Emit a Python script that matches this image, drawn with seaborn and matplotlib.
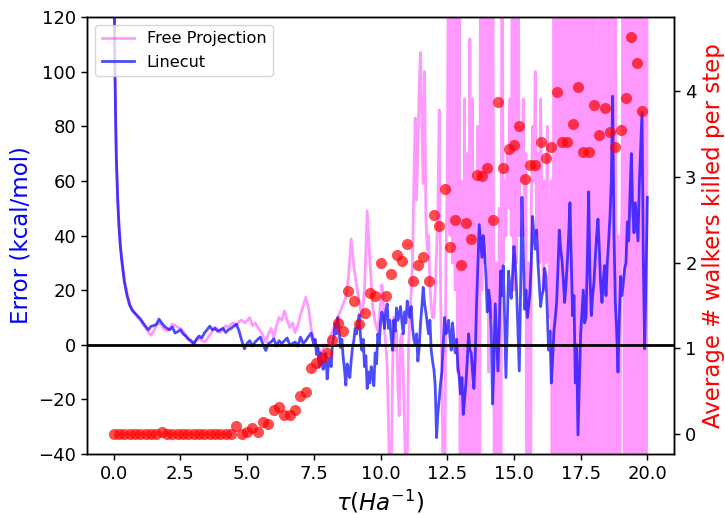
import numpy as np
import pandas as pd
import matplotlib
matplotlib.use("Agg")
import matplotlib.pyplot as plt
import seaborn as sns

# ---------------- data ----------------
# Linecut (blue): dense head, 0.1 spacing 0.7-7.4, 0.05 spacing 7.5-20.0
head_tau = [0.0, 0.02, 0.04, 0.06, 0.08, 0.1, 0.15, 0.2, 0.25, 0.3, 0.4, 0.5, 0.6]
linecut_head = [160, 130, 105, 90, 78, 68, 53, 43, 36, 31, 23, 18, 14.5]
linecut_mid = [
    12.5, 11.5, 10.5, 9.5, 8, 6.7, 5.5, 6.8, 7, 7.5,
    9.4, 8, 6.8, 6, 5.5, 6.5, 4.3, 4.8, 5.5, 4,
    3.2, 2, 1.5, 0.3, 2, 3.2, 2.5, 4.3, 5.5, 6.8,
    5.5, 6, 4.9, 5.5, 6, 4.5, 5.5, 6, 6.8, 7.5,
    5, 1.5, -1.5, 0.5, 1.5, -0.5, 1, 2, 2.8, 0,
    -2.1, 0.5, 1, 2.2, -0.5, 1.5, 0.4, 1.5, 2.5, -0.2,
    0.5, 1, -0.5, 2.8, 0.5, 1.5, 3, 4.3,
]
linecut_tail = [
    0, 2, -3.5, -1, -8.2, -3, -6, -9, -5.8, -3,
    -12.5, -7, -5, -8, 0.4, 3, 7.7, 4, 10, 5,
    -1, 2, -4.6, -9, -14.8, -7, -9, -12, -5.8, -1,
    1.5, 6, 4, 8, 11, 3, -2, 2, -8, -4,
    -16, -10, -14, -8, -11, -15, -3, -7, 4, 0,
    8, 12, 10, 6, 12.5, 15, 6, 9, 2.5, -2,
    9, 5, 13.5, 9, 11, 14, 8.5, 4, 12, 8,
    16, 12, 10, 14, 6, 2, 0, 4, -6, -1,
    8, 14, 21, 15, 12, 8, 4, 9, -2, -6,
    -9, -15, -34, -25, -20, -14, -10, 0, 10, 4,
    5, 9, 3, -2, 8, 2, -3, 2, -8, -12,
    -18, -12, -25.5, -20, -14, -6, 4, -2, -3, -10,
    -16, -4, 15, 30, 44, 38, 32, 40, 34, 25,
    12, 20, 16, 5, -21.7, -5, 15, 3, -9.6, 6,
    27, 18, 29, 10, -12, 8, 27, 20, 17, 26,
    36, 30, 20, 5, -9.6, 20, 54, 35, 13, 20,
    10, 14, 19, 30, 47, 40, 35, 42, 30, 22,
    14, 18, 20, 28, 25, 12, -2, 5, -14, -5,
    5, 10, 15.5, 28, 42, 35, 31, 24, 15.5, 22,
    30, 40, 52, 30, 10.7, 18, -14, 0, -33, -15,
    4, 12, 20, 8, 10, 30, 56, 25, 10.7, 18,
    23, 32, 40, 46, 35, 22, 15.5, 24, 29, 18,
    30, 38, 47, 60, 91, 40, 15.5, 5, -10, 10,
    25, 18, 23, 28, 30, 45, 38, 55, 70, 50,
    41, 52, 45, 38, 59, 72, 85, 30, -1.5, 25,
    54,
]

# Free Projection (magenta): same head, 0.1 spacing 0.7-9.9, 0.05 spacing 10.0-20.0
freeproj_head = [160, 130, 106, 91, 79, 69, 54, 44, 37, 32, 24, 19, 15]
freeproj_mid = [
    13, 11.5, 10, 9, 7.5, 6, 4.5, 3.5, 5, 7,
    8, 7, 5.5, 5, 6, 7.5, 7, 6.5, 6, 5,
    3.5, 2.5, 1, 0.5, 1.5, 2.5, 1.5, 1, 2, 3.5,
    5, 6.5, 5.5, 4.5, 6, 7, 6.5, 7.5, 8, 7,
    8.5, 9, 8, 8.8, 10, 7, 8, 6.3, 5, 3.3,
    1, 4, 6, 2.7, 7, 10, 9, 12.4, 9, 6.3,
    8, 4.5, 7, 11, 14, 17.4, 13.6, 6, 2, 0,
    -2, -3, 0, -1, 3, 5, 7.6, 10, 12.4, 15,
    17.4, 25, 38.8, 28.4, 22, 16, 10, 20, 49, 30.8,
    14.8, 8, 5,
]
freeproj_tail = [
    15, 22, 18, 5, 0, -8, -30, -55, -50, -10, 10, -2, 5, -15, -26, 2, 4, -10, -30, -50,
    -45, 0, 10, 20, 30, 60, 83, 53, 70, 95, 107, 80, 59, 100, 47, 35, 40, 22, 15, 10,
    10, 20, 34, 50, 86, 20, -10, -60, -80, 30, 60, 160, 40, 170, 30, 150, 20, 160, -10, 140,
    -200, 60, -200, 90, -200, 70, -200, 112, -200, 90, -200, 60, -200, 80, -200, 200, 20, 200, 30, 40,
    200, -10, 200, 10, 200, -20, -200, 30, -200, 50, -200, 200, 30, 60, 40, 70, 50, 90, 40, 200,
    20, 200, 30, 200, 40, 80, 60, 90, 40, 70, -200, 30, -200, 50, 80, 60, 100, 40, 70, 30,
    90, 50, 20, 60, 30, 80, 40, 10, 60, -200, 200, -200, 200, -200, 200, -200, 200, -200, 200, -200,
    200, -200, 200, -200, 200, -200, 200, -200, 200, -200, 200, -200, 200, -200, 200, -200, 200, -200, 200, -200,
    200, 40, -200, 200, -200, 60, 200, -200, 200, -200, 200, -200, 200, -200, 200, -200, 200, -200, 40, -200,
    30, 50, 200, -200, 200, -200, 200, -200, 200, -200, 200, -200, 200, -200, 200, -200, 200, -200, 200, -200,
    200,
]

# Average # walkers killed per step (red), every 0.2 from 0 to 19.8
killed = [
    0, 0, 0, 0, 0, 0, 0, 0, 0, 0.02,
    0, 0, 0, 0, 0, 0, 0, 0, 0, 0,
    0, 0, 0, 0.10, 0.0, 0.03, 0.07, 0.03, 0.14, 0.12,
    0.28, 0.32, 0.22, 0.22, 0.28, 0.44, 0.49, 0.77, 0.83, 0.89,
    0.95, 1.10, 1.30, 1.20, 1.67, 1.55, 1.28, 1.41, 1.64, 1.61,
    2.00, 1.61, 1.87, 2.09, 2.02, 2.22, 1.78, 1.97, 2.06, 1.78,
    2.55, 2.42, 2.86, 2.18, 2.49, 1.97, 2.46, 2.27, 3.02, 3.01,
    3.10, 2.49, 3.87, 3.10, 3.32, 3.37, 3.59, 2.97, 3.14, 3.14,
    3.41, 3.22, 3.35, 3.99, 3.41, 3.41, 3.62, 4.05, 3.29, 3.29,
    3.84, 3.49, 3.80, 3.52, 3.35, 3.55, 3.92, 4.63, 4.33, 3.77,
]

# ---------------- sampling grids ----------------
lc_tau = (head_tau
          + list(np.round(0.7 + 0.1 * np.arange(len(linecut_mid)), 3))
          + list(np.round(7.5 + 0.05 * np.arange(len(linecut_tail)), 3)))
fp_tau = (head_tau
          + list(np.round(0.7 + 0.1 * np.arange(len(freeproj_mid)), 3))
          + list(np.round(10.0 + 0.05 * np.arange(len(freeproj_tail)), 3)))
kill_tau = list(np.round(0.2 * np.arange(len(killed)), 3))

df_lc = pd.DataFrame({"tau": lc_tau, "err": linecut_head + linecut_mid + linecut_tail})
df_fp = pd.DataFrame({"tau": fp_tau, "err": freeproj_head + freeproj_mid + freeproj_tail})
df_k = pd.DataFrame({"tau": kill_tau, "killed": killed})

# ---------------- plot ----------------
plt.rcParams.update({
    "axes.linewidth": 1.05,
    "xtick.major.size": 4.5, "ytick.major.size": 4.5,
    "xtick.major.width": 1.05, "ytick.major.width": 1.05,
    "xtick.labelsize": 13, "ytick.labelsize": 13,
})

fig, ax1 = plt.subplots(figsize=(7.25, 5.15), dpi=100)
fig.subplots_adjust(left=0.12, right=0.9297, bottom=0.1184, top=0.967)

sns.lineplot(data=df_fp, x="tau", y="err", ax=ax1, color="magenta", alpha=0.4,
             linewidth=2.0, estimator=None, sort=False, label="Free Projection")
sns.lineplot(data=df_lc, x="tau", y="err", ax=ax1, color="blue", alpha=0.7,
             linewidth=2.0, estimator=None, sort=False, label="Linecut")
ax1.axhline(0, color="black", linewidth=2.0)
ax1.set_xlim(-1.0, 21.0)
ax1.set_ylim(-40, 120)
ax1.set_xlabel(r"$\tau (Ha^{-1})$", fontsize=16.5)
ax1.set_ylabel("Error (kcal/mol)", color="blue", fontsize=16.5)
ax1.legend(loc="upper left", fontsize=11.6)

ax2 = ax1.twinx()
sns.scatterplot(data=df_k, x="tau", y="killed", ax=ax2, color="red", alpha=0.7,
                s=64, linewidth=0, legend=False)
ax2.set_ylabel("Average # walkers killed per step", color="red", fontsize=16.5)
ax2.set_xlabel("")

fig.savefig("out.png", dpi=100)
